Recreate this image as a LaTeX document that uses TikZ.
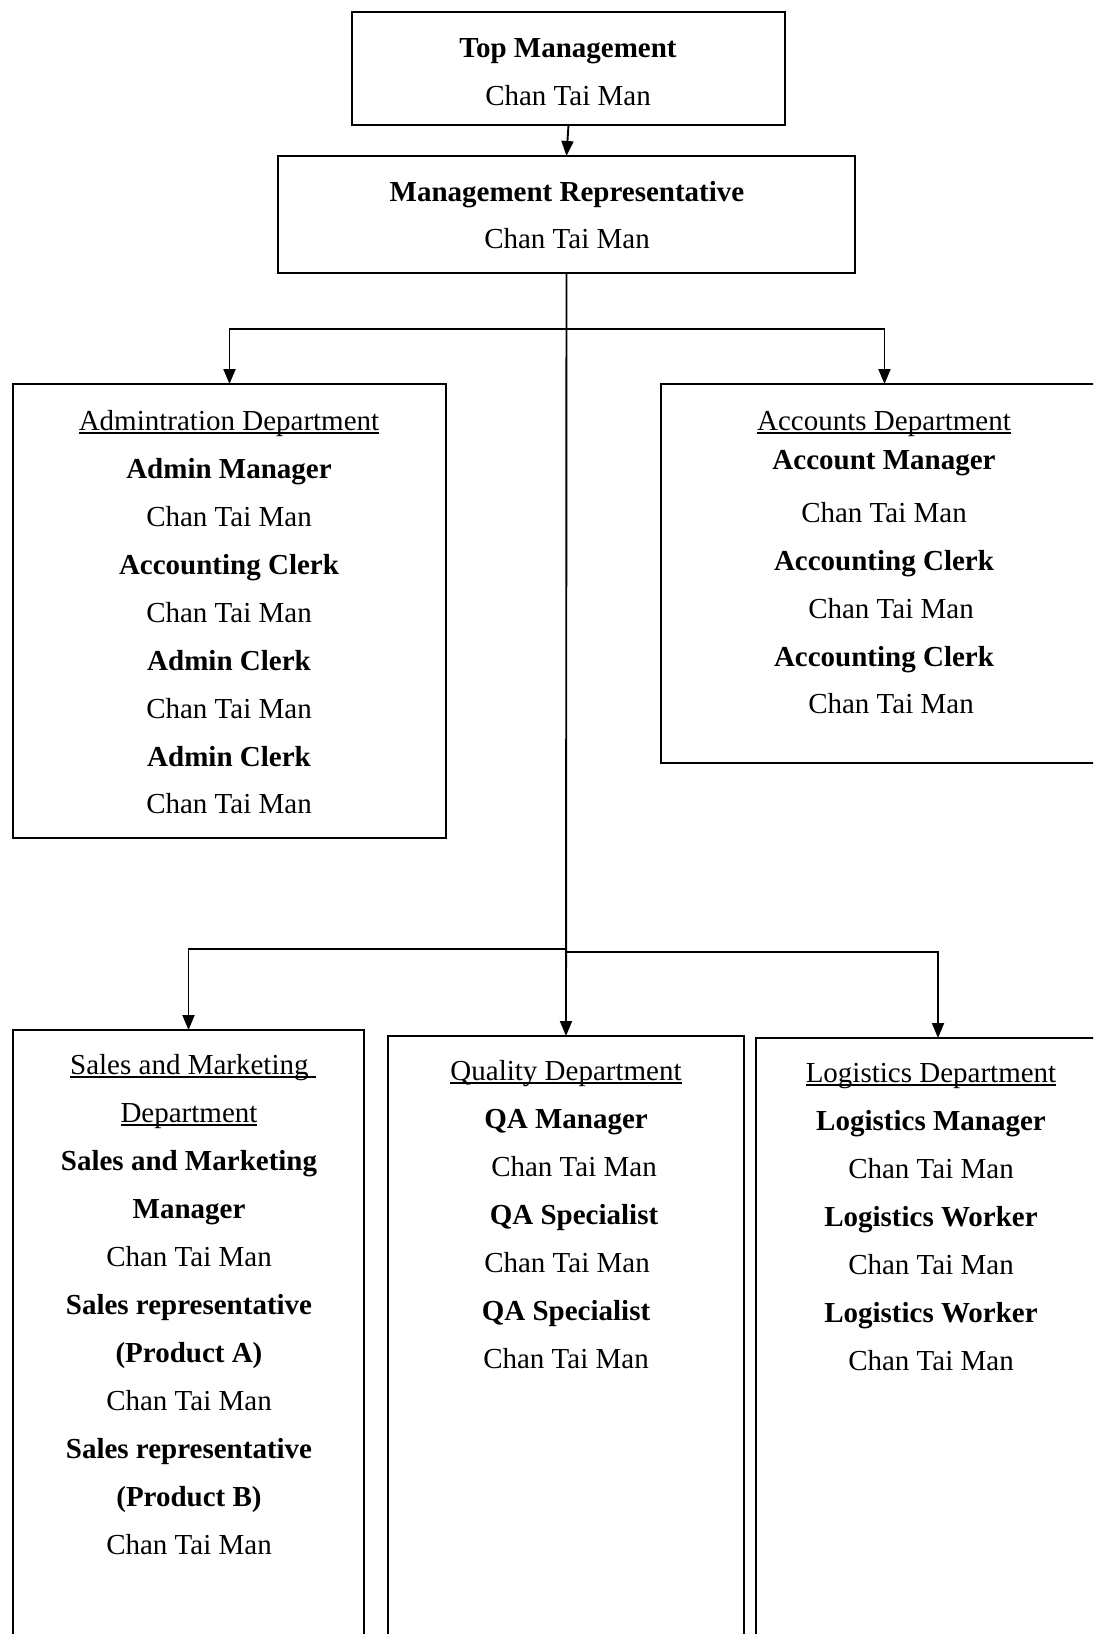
\documentclass[tikz,border=0pt]{standalone}
\usepackage{fontspec}
\setmainfont{Liberation Serif}
\usetikzlibrary{arrows.meta}
\newcommand\myul[1]{\setbox0\hbox{#1}\rlap{\rule[-3.5pt]{\wd0}{1.5pt}}\box0}
\begin{document}
\begin{tikzpicture}[x=1pt,y=-1pt,
  box/.style={draw, line width=1.9pt, rectangle, inner sep=0pt, outer sep=0pt, anchor=north west},
  conn/.style={line width=1.9pt, -{Triangle[length=15pt,width=12pt]}},
  lbl/.style={anchor=base, inner sep=0pt, font=\fontsize{29}{35}\selectfont}]
\path[use as bounding box] (0,0) rectangle (1093,1634);
\fill[white] (0,0) rectangle (1093,1634);
\clip (0,0) rectangle (1093,1634);

% boxes
\node[box, minimum width=433pt, minimum height=113pt] (top) at (352,12) {};
\node[box, minimum width=577pt, minimum height=117pt] (mr) at (278,156) {};
\node[box, minimum width=433pt, minimum height=454pt] (admin) at (13,384) {};
\node[box, minimum width=447pt, minimum height=379pt] (acc) at (661,384) {};
\node[box, minimum width=351pt, minimum height=640pt] (sales) at (13,1030) {};
\node[box, minimum width=356pt, minimum height=640pt] (qual) at (388,1036) {};
\node[box, minimum width=364pt, minimum height=640pt] (log) at (756,1038) {};

% connectors
\coordinate (b1) at (567,329);
\coordinate (b2) at (567,949);
\coordinate (b3) at (567,952);
\draw[conn] (top.south) -- (mr.north);
\draw[conn] (mr.south) -- (qual.north);
\draw[conn] (b1) -| (admin.north);
\draw[conn] (b1) -| (acc.north);
\draw[conn] (b2) -| (sales.north);
\draw[conn] (b3) -| (log.north);

% texts
\foreach [count=\i] \txt/\xx/\yy in {
  {\textbf{Top Management}}/568/57, {Chan Tai Man}/568/105}
  \node[lbl] (topt\i) at (\xx,\yy) {\txt};
\foreach [count=\i] \txt/\xx/\yy in {
  {\textbf{Management Representative}}/567/201, {Chan Tai Man}/567/248}
  \node[lbl] (mrt\i) at (\xx,\yy) {\txt};
\foreach [count=\i] \txt/\xx/\yy in {
  {\myul{Admintration Department}}/229/430,
  {\textbf{Admin Manager}}/229/478, {Chan Tai Man}/229/526,
  {\textbf{Accounting Clerk}}/229/574, {Chan Tai Man}/229/622,
  {\textbf{Admin Clerk}}/229/670, {Chan Tai Man}/229/718,
  {\textbf{Admin Clerk}}/229/766, {Chan Tai Man}/229/813}
  \node[lbl] (admt\i) at (\xx,\yy) {\txt};
\foreach [count=\i] \txt/\xx/\yy in {
  {\myul{Accounts Department}}/884/430,
  {\textbf{Account Manager}}/884/469, {Chan Tai Man}/884/522,
  {\textbf{Accounting Clerk}}/884/570, {Chan Tai Man}/891/618,
  {\textbf{Accounting Clerk}}/884/666, {Chan Tai Man}/891/713}
  \node[lbl] (acct\i) at (\xx,\yy) {\txt};
\foreach [count=\i] \txt/\xx/\yy in {
  {\myul{Sales and Marketing\ }}/193/1074, {\myul{Department}}/189/1122,
  {\textbf{Sales and Marketing}}/189/1170, {\textbf{Manager}}/189/1218,
  {Chan Tai Man}/189/1266,
  {\textbf{Sales representative}}/189/1314, {\textbf{(Product A)}}/189/1362,
  {Chan Tai Man}/189/1410,
  {\textbf{Sales representative}}/189/1458, {\textbf{(Product B)}}/189/1506,
  {Chan Tai Man}/189/1554}
  \node[lbl] (salt\i) at (\xx,\yy) {\txt};
\foreach [count=\i] \txt/\xx/\yy in {
  {\myul{Quality Department}}/566/1080,
  {\textbf{QA Manager}}/566/1128, {Chan Tai Man}/574/1176,
  {\textbf{QA Specialist}}/574/1224, {Chan Tai Man}/567/1272,
  {\textbf{QA Specialist}}/566/1320, {Chan Tai Man}/566/1368}
  \node[lbl] (qat\i) at (\xx,\yy) {\txt};
\foreach [count=\i] \txt/\xx/\yy in {
  {\myul{Logistics Department}}/931/1082,
  {\textbf{Logistics Manager}}/931/1130, {Chan Tai Man}/931/1178,
  {\textbf{Logistics Worker}}/931/1226, {Chan Tai Man}/931/1274,
  {\textbf{Logistics Worker}}/931/1322, {Chan Tai Man}/931/1370}
  \node[lbl] (logt\i) at (\xx,\yy) {\txt};
\end{tikzpicture}
\end{document}
